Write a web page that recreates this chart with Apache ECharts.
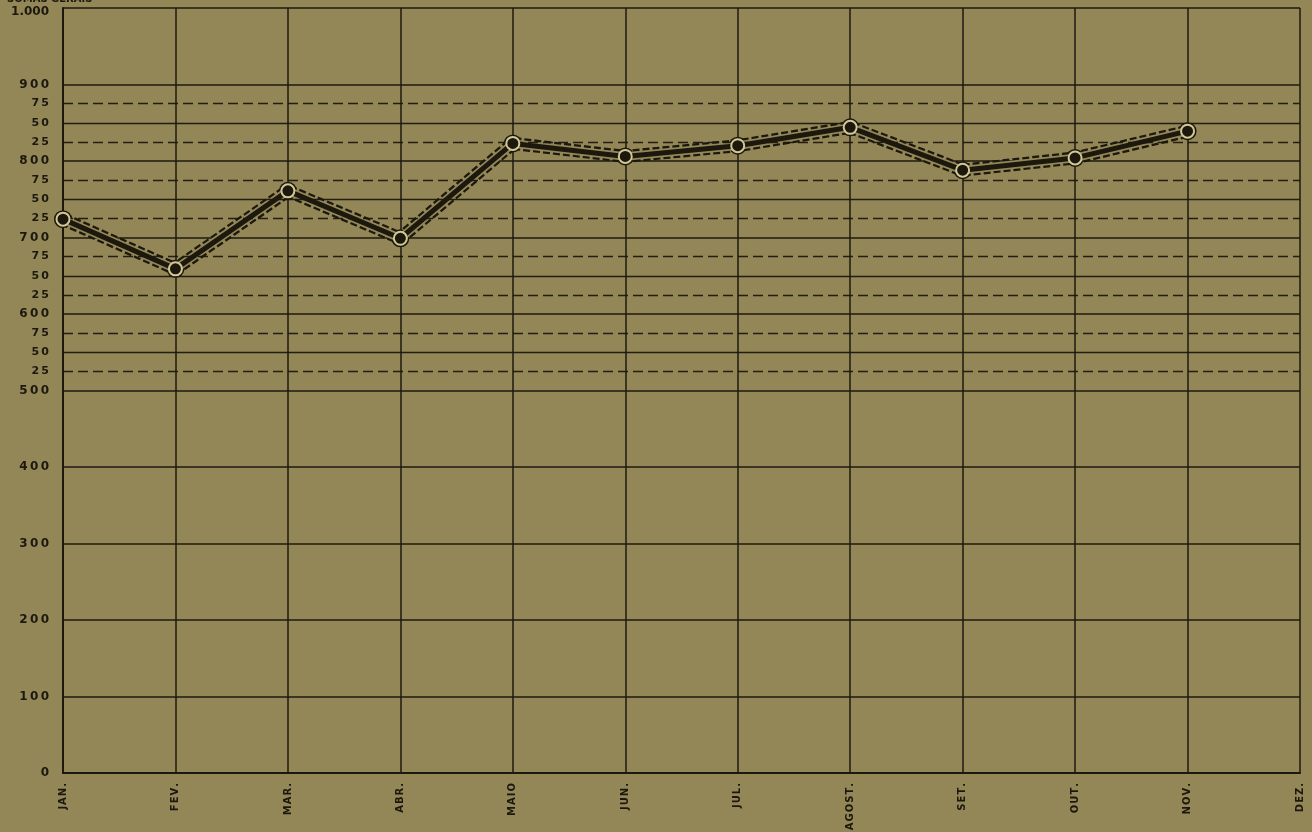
<!DOCTYPE html>
<html>
<head>
<meta charset="utf-8">
<script src="https://cdn.jsdelivr.net/npm/echarts@6/dist/echarts.min.js"></script>
<style>
html,body{margin:0;padding:0;background:#938757;}
#chart{width:1312px;height:832px;}
</style>
</head>
<body>
<div id="chart"></div>
<script>
const months = ['JAN.', 'FEV.', 'MAR.', 'ABR.', 'MAIO', 'JUN.', 'JUL.', 'AGOST.', 'SET.', 'OUT.', 'NOV.', 'DEZ.'];
const values = [724, 659, 761, 699, 823, 806, 820, 844, 788, 804, 839, null];
const minorSolidLevels = [550, 650, 750, 850];
const minorDashedLevels = [525, 575, 625, 675, 725, 775, 825, 875];
const headerText = 'SOMAS GERAIS';

const ink = '#1c180e';
const paper = '#938757';

const chart = echarts.init(document.getElementById('chart'));

function markLines(levels, type) {
  return {
    silent: true,
    symbol: ['none', 'none'],
    label: { show: false },
    lineStyle: { color: ink, width: 1.4, type: type, opacity: 0.95 },
    data: levels.map(v => ({ yAxis: v }))
  };
}

chart.setOption({
  backgroundColor: paper,
  animation: false,
  title: {
    text: headerText,
    left: 2, top: -11,
    textStyle: { fontFamily: 'DejaVu Sans', fontSize: 10, fontWeight: 'bold', color: ink }
  },
  grid: { left: 63, right: 12, top: 8, bottom: 59, containLabel: false, outerBoundsMode: 'none' },
  xAxis: {
    type: 'category',
    data: months,
    boundaryGap: false,
    axisLine: { show: true, lineStyle: { color: ink, width: 2 } },
    axisTick: { show: false },
    splitLine: { show: true, lineStyle: { color: ink, width: 1.5 } },
    axisLabel: {
      rotate: 90, margin: 10, color: ink,
      fontFamily: 'DejaVu Sans', fontSize: 10, fontWeight: 'bold',
      formatter: v => v.split('').join('\u200A')
    }
  },
  yAxis: [
    {
      type: 'value', min: 0, max: 1000, interval: 100,
      axisLine: { show: true, lineStyle: { color: ink, width: 2 } },
      axisTick: { show: false },
      splitLine: { show: true, lineStyle: { color: ink, width: 1.5 } },
      axisLabel: {
        margin: 14, color: ink, fontFamily: 'DejaVu Sans', fontSize: 12, fontWeight: 'bold',
        formatter: v => v === 1000 ? '{t|1.000}' : String(v).split('').join('\u2009'),
        rich: { t: { padding: [8, 0, 0, 0], fontFamily: 'DejaVu Sans', fontSize: 12, fontWeight: 'bold', color: ink } }
      }
    },
    {
      type: 'value', min: 0, max: 1000, interval: 25, position: 'left',
      axisLine: { show: false }, axisTick: { show: false }, splitLine: { show: false },
      axisLabel: {
        margin: 14, color: ink, fontFamily: 'DejaVu Sans', fontSize: 11, fontWeight: 'bold',
        formatter: v => (v > 500 && v < 900 && v % 100 !== 0) ? String(v % 100).split('').join('\u2009') : ''
      }
    }
  ],
  series: [
    {
      type: 'line', data: values, yAxisIndex: 0, z: 3,
      symbol: 'circle', symbolSize: 18,
      itemStyle: { color: ink },
      lineStyle: { color: ink, width: 13, type: [7, 3] },
      markLine: markLines(minorSolidLevels, 'solid')
    },
    {
      type: 'line', data: values, yAxisIndex: 0, z: 4,
      symbol: 'none',
      lineStyle: { color: paper, width: 8.5 },
      markLine: markLines(minorDashedLevels, [10, 5])
    },
    {
      type: 'line', data: values, yAxisIndex: 0, z: 5,
      symbol: 'circle', symbolSize: 13,
      itemStyle: { color: ink, borderColor: '#d2c894', borderWidth: 2 },
      lineStyle: { color: ink, width: 5 }
    }
  ]
});
</script>
</body>
</html>
